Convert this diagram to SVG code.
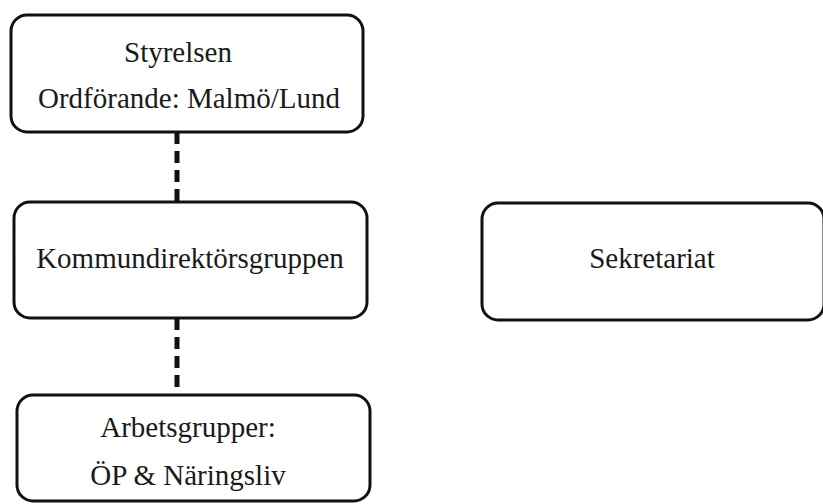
<svg xmlns="http://www.w3.org/2000/svg" width="823" height="504" viewBox="0 0 823 504">
<style>
.box{fill:#fff;stroke:#111;stroke-width:3}
.t{font-family:"Liberation Serif","Times New Roman",serif;font-size:29px;fill:#1a1a1a;text-anchor:middle}
.c{stroke:#111;stroke-width:5;stroke-dasharray:12 7;fill:none}
</style>
<rect width="823" height="504" fill="#fff"/>
<g id="connectors">
<line class="c" x1="177" y1="132" x2="177" y2="202"/>
<line class="c" x1="177" y1="318" x2="177" y2="395"/>
</g>
<g id="styrelsen">
<rect class="box" x="11" y="15" width="352" height="117" rx="16"/>
<text class="t" x="178" y="62">Styrelsen</text>
<text class="t" x="189" y="108">Ordförande: Malmö/Lund</text>
</g>
<g id="kommundirektorsgruppen">
<rect class="box" x="14" y="202" width="353" height="116" rx="16"/>
<text class="t" x="190" y="268">Kommundirektörsgruppen</text>
</g>
<g id="arbetsgrupper">
<rect class="box" x="17" y="395" width="353" height="106" rx="16"/>
<text class="t" x="188" y="437">Arbetsgrupper:</text>
<text class="t" x="188" y="485">ÖP &amp; Näringsliv</text>
</g>
<g id="sekretariat">
<rect class="box" x="482" y="203" width="342" height="117" rx="16"/>
<text class="t" x="652" y="268">Sekretariat</text>
</g>
</svg>
